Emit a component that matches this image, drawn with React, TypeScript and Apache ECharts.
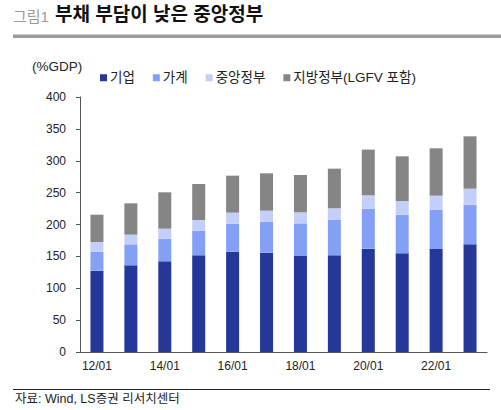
import React, { useEffect, useRef } from "react";
import * as echarts from "echarts";

const categories = ["12/01", "13/01", "14/01", "15/01", "16/01", "17/01", "18/01", "19/01", "20/01", "21/01", "22/01", "23/01"];
const corporate = [127.6, 135.9, 142.2, 151.6, 157.4, 155.8, 150.6, 151.6, 162.1, 154.8, 161.6, 168.9];
const household = [29.8, 33.0, 35.6, 38.7, 43.9, 48.6, 51.2, 56.0, 62.7, 60.6, 61.7, 62.2];
const central = [15.1, 15.2, 15.7, 16.8, 17.3, 17.3, 17.3, 17.8, 21.0, 21.5, 21.9, 25.1];
const local = [42.9, 49.1, 57.0, 56.4, 58.0, 58.6, 58.5, 62.2, 71.6, 70.0, 74.3, 82.1];
const seriesNames = ["기업", "가계", "중앙정부", "지방정부(LGFV 포함)"];
const colors = ["#25389a", "#84a0f6", "#c3cff8", "#858585"];

const FONT = "'Liberation Sans', 'Noto Sans CJK KR', sans-serif";

export default function App() {
  const ref = useRef<HTMLDivElement>(null);
  useEffect(() => {
    if (!ref.current) return;
    const chart = echarts.init(ref.current, undefined, { renderer: "svg" });
    const data = [corporate, household, central, local];
    chart.setOption({
      animation: false,
      textStyle: { fontFamily: FONT },
      graphic: [
        { type: "text", left: 13, top: 9, style: { text: "그림1", fontSize: 15, fill: "#9a9a9a", fontFamily: FONT } },
        { type: "text", left: 55, top: 5, style: { text: "부채 부담이 낮은 중앙정부", fontSize: 19, fontWeight: "bold", fill: "#111", fontFamily: FONT } },
        { type: "rect", shape: { x: 13, y: 34.5, width: 488, height: 3.5 }, style: { fill: "#9c9c9c" } },
        { type: "text", left: 32, top: 60, style: { text: "(%GDP)", fontSize: 13.5, fill: "#222", fontFamily: FONT } },
        { type: "rect", shape: { x: 13, y: 389, width: 477, height: 1 }, style: { fill: "#222" } },
        { type: "text", left: 15, top: 393, style: { text: "자료: Wind, LS증권 리서치센터", fontSize: 12.5, fill: "#222", fontFamily: FONT } },
      ],
      legend: {
        left: 95,
        top: 66,
        itemWidth: 7,
        itemHeight: 7,
        itemGap: 18,
        icon: "rect",
        textStyle: { fontSize: 13.5, color: "#222", fontFamily: FONT, padding: [0, 0, 0, -2] },
        data: seriesNames,
      },
      grid: { left: 80, right: 14, top: 97, bottom: 58 },
      xAxis: {
        type: "category",
        data: categories,
        axisLine: { lineStyle: { color: "#555" } },
        axisTick: { interval: 1, length: 4, lineStyle: { color: "#555" } },
        axisLabel: { interval: 1, fontSize: 12, color: "#222", margin: 8 },
      },
      yAxis: {
        type: "value",
        min: 0,
        max: 400,
        interval: 50,
        splitLine: { show: false },
        axisLine: { show: true, lineStyle: { color: "#555" } },
        axisTick: { show: true, length: 4, lineStyle: { color: "#555" } },
        axisLabel: { fontSize: 12, color: "#222", margin: 14 },
      },
      series: seriesNames.map((name, i) => ({
        name,
        type: "bar",
        stack: "total",
        barWidth: 13,
        itemStyle: { color: colors[i] },
        data: data[i],
      })),
    });
    return () => chart.dispose();
  }, []);
  return <div ref={ref} style={{ width: 501, height: 410, position: "absolute", left: 0, top: 0 }} />;
}
